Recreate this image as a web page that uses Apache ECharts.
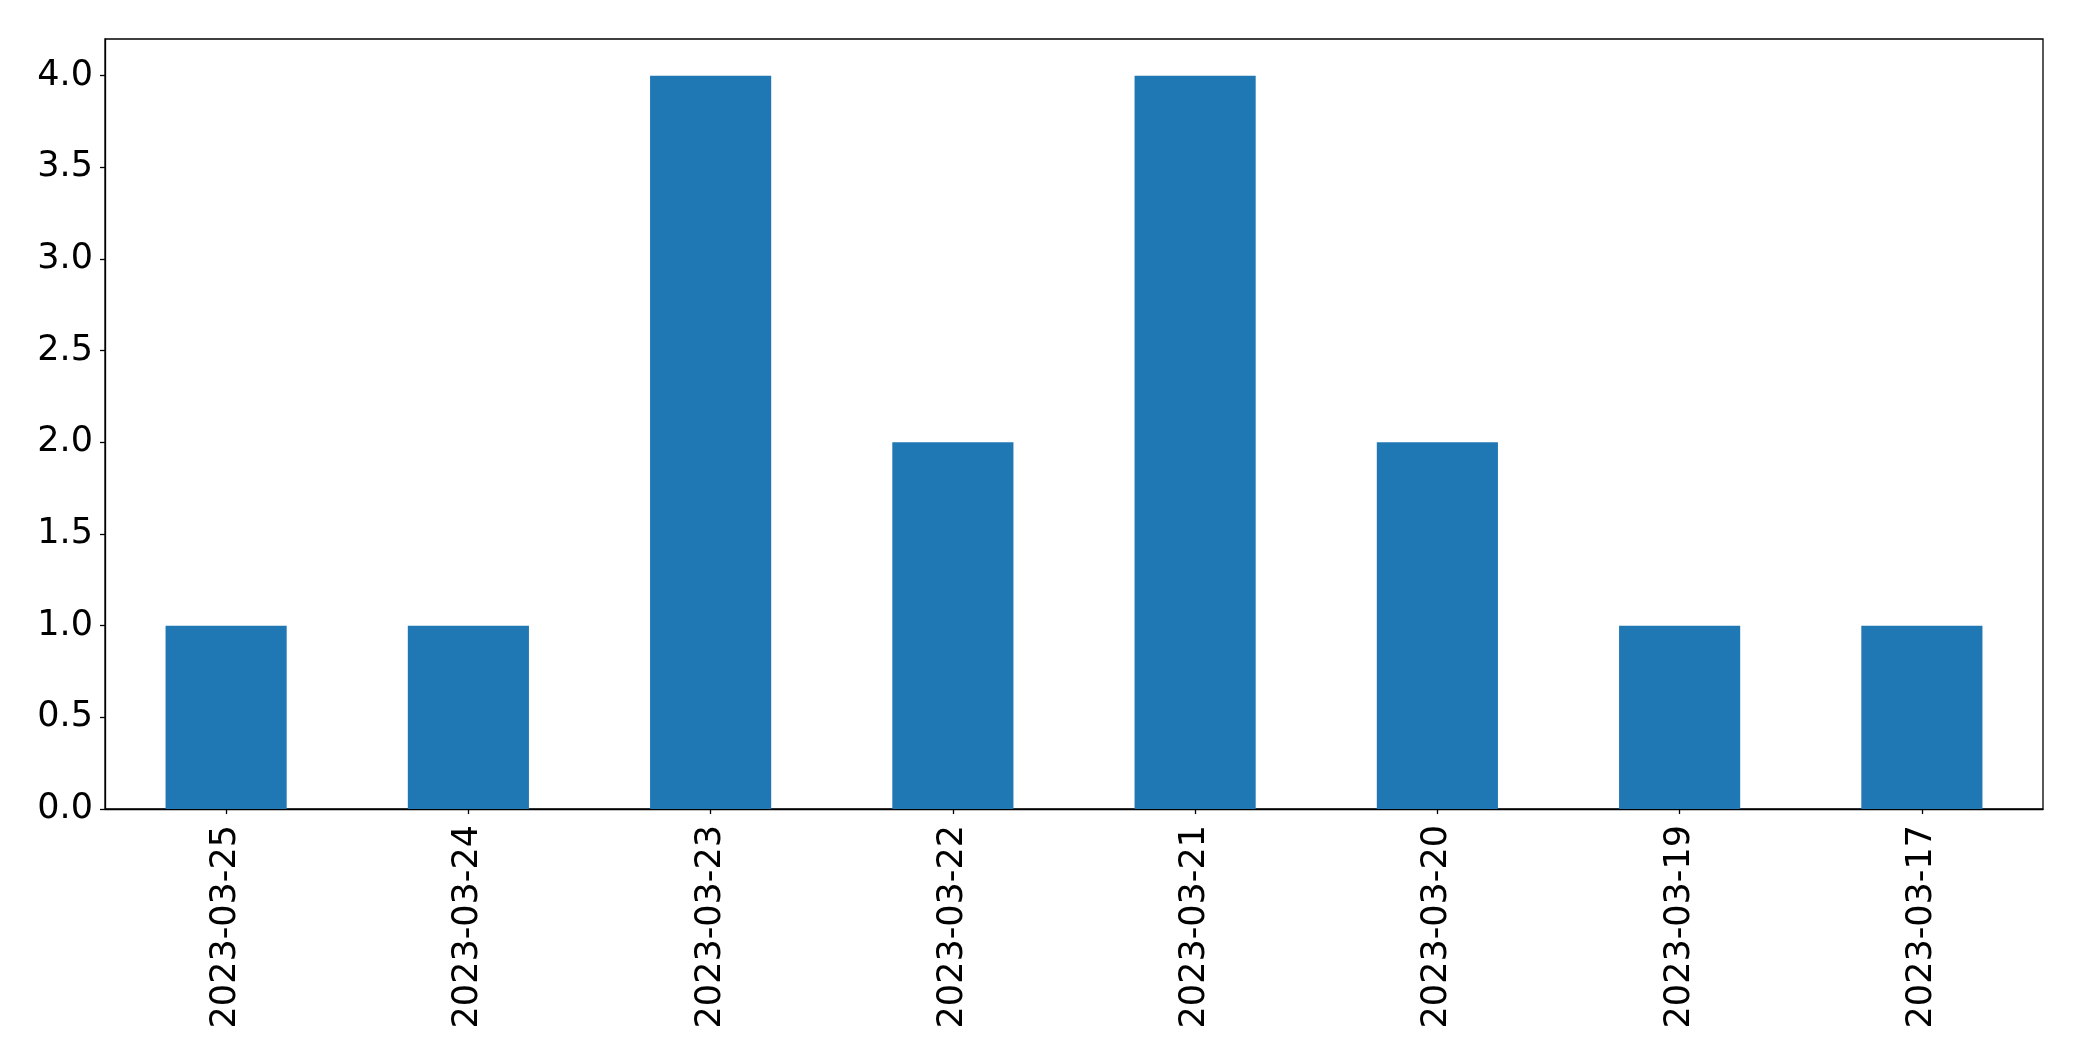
<!DOCTYPE html>
<html>
<head>
<meta charset="utf-8">
<script src="https://cdn.jsdelivr.net/npm/echarts@6/dist/echarts.min.js"></script>
<style>html,body{margin:0;padding:0;background:#fff;}#c{width:2082px;height:1061px;}</style>
</head>
<body>
<div id="c"></div>
<script>
const categories = ['2023-03-25','2023-03-24','2023-03-23','2023-03-22','2023-03-21','2023-03-20','2023-03-19','2023-03-17'];
const counts = [1, 1, 4, 2, 4, 2, 1, 1];
const yTicks = [0, 0.5, 1, 1.5, 2, 2.5, 3, 3.5, 4];
const yMax = 4.2;

const chart = echarts.init(document.getElementById('c'), null, {renderer: 'canvas'});
const font = 'DejaVu Sans';
chart.setOption({
  animation: false,
  backgroundColor: '#fff',
  grid: {left: 105, top: 39, width: 1938, height: 770, show: true, borderColor: '#000', borderWidth: 1.3, backgroundColor: 'transparent'},
  xAxis: {
    type: 'category',
    data: categories,
    boundaryGap: true,
    axisLine: {show: true, lineStyle: {color: '#000', width: 1.3}},
    axisTick: {show: true, alignWithLabel: true, length: 5, lineStyle: {color: '#000', width: 1.3}},
    axisLabel: {rotate: 90, margin: 16, fontSize: 35, fontFamily: font, color: '#000'},
    splitLine: {show: false}
  },
  yAxis: {
    type: 'value',
    min: 0,
    max: yMax,
    interval: 0.5,
    axisLine: {show: true, lineStyle: {color: '#000', width: 1.3}},
    axisTick: {show: true, length: 5, customValues: yTicks, lineStyle: {color: '#000', width: 1.3}},
    axisLabel: {margin: 12, fontSize: 35, fontFamily: font, color: '#000', customValues: yTicks,
      formatter: v => v.toFixed(1)},
    splitLine: {show: false}
  },
  series: [{
    type: 'bar',
    data: counts,
    barWidth: '50%',
    itemStyle: {color: '#1f77b4'}
  }]
});
</script>
</body>
</html>
